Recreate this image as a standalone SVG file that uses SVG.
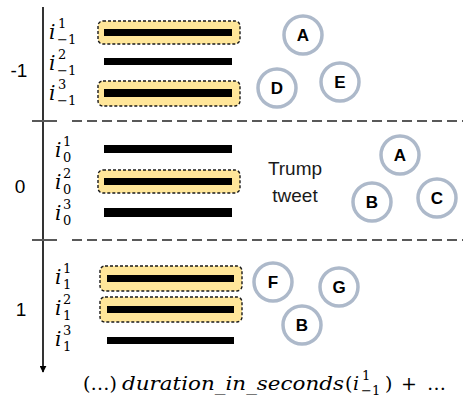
<svg xmlns="http://www.w3.org/2000/svg" width="463" height="397" viewBox="0 0 463 397">
  <style>
    .sep { stroke: #595959; stroke-width: 2; }
    .sepdash { stroke: #595959; stroke-width: 2; stroke-dasharray: 10 5; }
    .hl { fill: #FFE699; stroke: #1a1a1a; stroke-width: 1.4; stroke-dasharray: 3 2; }
    .bar { fill: #000; }
    .ent { fill: #fff; stroke: #ADB9CA; stroke-width: 3.5; }
    .ent-t { font-family: "Liberation Sans", Arial, sans-serif; font-weight: bold; font-size: 17px; text-anchor: middle; fill: #000; }
    .row { font-family: "Liberation Sans", Arial, sans-serif; font-size: 19px; text-anchor: middle; fill: #000; }
    .tw { font-family: "Liberation Sans", Arial, sans-serif; font-size: 19px; text-anchor: middle; fill: #1a1a1a; }
    .mi { font-family: "DejaVu Serif", "Liberation Serif", serif; font-style: italic; font-size: 20px; fill: #000; }
    .sc { font-family: "DejaVu Serif", "Liberation Serif", serif; font-size: 13px; fill: #000; }
    .fm { font-family: "DejaVu Serif", "Liberation Serif", serif; font-size: 19px; fill: #000; }
    .fmi { font-style: italic; }
  </style>
  <defs>
    <marker id="arrow" viewBox="0 0 10 10" refX="9" refY="5" markerWidth="7" markerHeight="7" orient="auto" markerUnits="userSpaceOnUse">
      <path d="M0,0 L10,5 L0,10 z" fill="#000"/>
    </marker>
  </defs>

  <!-- time axis and window separators -->
  <g id="connectors">
    <line x1="43" y1="7" x2="43" y2="372" stroke="#000" stroke-width="1.6" marker-end="url(#arrow)"/>
    <line class="sep" x1="32" y1="121" x2="57" y2="121"/>
    <line class="sepdash" x1="72" y1="121" x2="463" y2="121"/>
    <line class="sep" x1="32" y1="240" x2="57" y2="240"/>
    <line class="sepdash" x1="72" y1="240" x2="463" y2="240"/>
  </g>

  <!-- window indices -->
  <g id="row-labels">
    <text class="row" x="19" y="77">-1</text>
    <text class="row" x="20" y="193">0</text>
    <text class="row" x="21" y="316">1</text>
  </g>

  <!-- window -1 -->
  <g id="win-m1">
    <rect class="hl" x="98" y="21" width="142" height="23" rx="5"/>
    <rect class="bar" x="104" y="29" width="128" height="7"/>
    <rect class="bar" x="104" y="58" width="128" height="7"/>
    <rect class="hl" x="98" y="81" width="142" height="25" rx="5"/>
    <rect class="bar" x="104" y="89" width="128" height="8"/>
    <text class="mi" x="49" y="39">i</text><text class="sc" x="58" y="28">1</text><text class="sc" x="57" y="44">−1</text>
    <text class="mi" x="49" y="70">i</text><text class="sc" x="58" y="59">2</text><text class="sc" x="57" y="75">−1</text>
    <text class="mi" x="49" y="100">i</text><text class="sc" x="58" y="89">3</text><text class="sc" x="57" y="105">−1</text>
  </g>

  <!-- window 0 -->
  <g id="win-0">
    <rect class="bar" x="104" y="145" width="128" height="8"/>
    <rect class="hl" x="98" y="170" width="142" height="23" rx="5"/>
    <rect class="bar" x="104" y="178" width="128" height="7"/>
    <rect class="bar" x="104" y="208" width="128" height="9"/>
    <text class="mi" x="55" y="157">i</text><text class="sc" x="63" y="146">1</text><text class="sc" x="63" y="162">0</text>
    <text class="mi" x="55" y="189">i</text><text class="sc" x="63" y="178">2</text><text class="sc" x="63" y="194">0</text>
    <text class="mi" x="55" y="220">i</text><text class="sc" x="63" y="209">3</text><text class="sc" x="63" y="225">0</text>
  </g>

  <!-- window 1 -->
  <g id="win-1">
    <rect class="hl" x="100" y="266" width="142" height="25" rx="5"/>
    <rect class="bar" x="107" y="275" width="127" height="7"/>
    <rect class="hl" x="100" y="297" width="142" height="25" rx="5"/>
    <rect class="bar" x="107" y="306" width="127" height="7"/>
    <rect class="bar" x="107" y="337" width="127" height="7"/>
    <text class="mi" x="55" y="284">i</text><text class="sc" x="63" y="273">1</text><text class="sc" x="63" y="289">1</text>
    <text class="mi" x="55" y="315">i</text><text class="sc" x="63" y="304">2</text><text class="sc" x="63" y="320">1</text>
    <text class="mi" x="55" y="346">i</text><text class="sc" x="63" y="335">3</text><text class="sc" x="63" y="351">1</text>
  </g>

  <!-- event label -->
  <g id="event">
    <text class="tw" x="295" y="175">Trump</text>
    <text class="tw" x="295" y="202">tweet</text>
  </g>

  <!-- entities -->
  <g id="ent-A1"><circle class="ent" cx="303" cy="35" r="19"/><text class="ent-t" x="303" y="41">A</text></g>
  <g id="ent-D1"><circle class="ent" cx="277" cy="88" r="19"/><text class="ent-t" x="277" y="94">D</text></g>
  <g id="ent-E1"><circle class="ent" cx="340" cy="82" r="19"/><text class="ent-t" x="340" y="88">E</text></g>
  <g id="ent-A2"><circle class="ent" cx="400" cy="155" r="19"/><text class="ent-t" x="400" y="161">A</text></g>
  <g id="ent-B2"><circle class="ent" cx="372" cy="202" r="19"/><text class="ent-t" x="372" y="208">B</text></g>
  <g id="ent-C2"><circle class="ent" cx="437" cy="198" r="19"/><text class="ent-t" x="437" y="204">C</text></g>
  <g id="ent-F3"><circle class="ent" cx="273" cy="282" r="19"/><text class="ent-t" x="273" y="288">F</text></g>
  <g id="ent-G3"><circle class="ent" cx="339" cy="287" r="19"/><text class="ent-t" x="339" y="293">G</text></g>
  <g id="ent-B3"><circle class="ent" cx="302" cy="325" r="19"/><text class="ent-t" x="302" y="331">B</text></g>

  <!-- feature formula -->
  <g id="formula">
    <text class="fm" x="83" y="390">(…)</text>
    <text class="fm fmi" x="122" y="390" textLength="222" lengthAdjust="spacingAndGlyphs">duration_in_seconds</text>
    <text class="fm" x="345" y="390">(</text>
    <text class="fm fmi" x="353" y="390">i</text>
    <text class="sc" x="362" y="380">1</text>
    <text class="sc" x="361" y="395">−1</text>
    <text class="fm" x="385" y="390">)</text>
    <text class="fm" x="401" y="390">+</text>
    <text class="fm" x="427" y="390">…</text>
  </g>
</svg>
